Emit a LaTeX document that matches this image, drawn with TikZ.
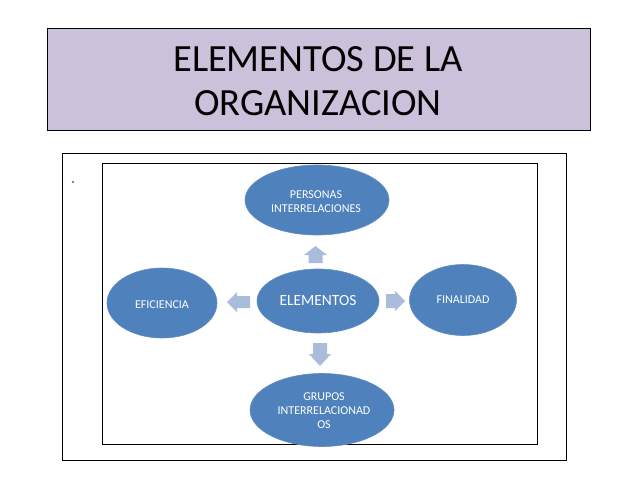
\documentclass[tikz,border=0pt]{standalone}
\usepackage{fontspec}
\setmainfont{Carlito}
\usetikzlibrary{shapes.geometric}
\definecolor{titlefill}{HTML}{CCC1DA}
\definecolor{ellfill}{HTML}{4F81BD}
\definecolor{arrfill}{HTML}{A9BCDC}
\tikzset{
  ell/.style={ellipse, fill=ellfill, draw=ellfill!90!white, line width=0.6pt, text=white, inner sep=0pt, align=center, font=\fontsize{12}{14}\selectfont},
  elltext/.style={align=center, text=white, font=\fontsize{12}{14}\selectfont, inner sep=0pt},
  blockarrow/.style={fill=arrfill, draw=none},
  frame/.style={draw=black, line width=0.8pt}
}
\begin{document}
\begin{tikzpicture}[x=1pt,y=-1pt]
\path[fill=white] (0,0) rectangle (638,479);
\useasboundingbox (0,0) rectangle (638,479);
% title
\node[frame, fill=titlefill, minimum width=543pt, minimum height=102pt, anchor=north west, inner sep=0pt] (title) at (47,28) {};
\node[align=center, font=\fontsize{38.5}{43.5}\selectfont] (titletext) at (318,81) {ELEMENTOS DE LA\\ORGANIZACION};
% content frames
\node[frame, minimum width=504pt, minimum height=307pt, anchor=north west, inner sep=0pt] (outer) at (62,153) {};
\node[frame, minimum width=435pt, minimum height=281pt, anchor=north west, inner sep=0pt] (inner) at (102,163) {};
\fill[gray] (73,182) circle (1.3pt);
% ellipses
\node[ell, minimum width=144pt, minimum height=70pt] (personas) at (317,200) {};
\node[elltext] (personastext) at (316,202) {PERSONAS\\INTERRELACIONES};
\node[ell, minimum width=122pt, minimum height=64pt, font=\fontsize{15.5}{18}\selectfont] (elementos) at (318,301) {ELEMENTOS};
\node[ell, minimum width=110pt, minimum height=70pt] (eficiencia) at (162,303) {};
\node[elltext] (eficienciatext) at (162,305) {EFICIENCIA};
\node[ell, minimum width=107pt, minimum height=71pt] (finalidad) at (463,300) {FINALIDAD};
\node[ell, minimum width=144pt, minimum height=73pt] (grupos) at (322,410) {};
\node[elltext] (grupostext) at (324,411) {GRUPOS\\INTERRELACIONAD\\OS};
% block arrows
\path[blockarrow] (315.5,246) -- (327,255) -- (322.5,255) -- (322.5,263) -- (308.5,263) -- (308.5,255) -- (304,255) -- cycle;
\path[blockarrow] (227,302) -- (237,292) -- (237,296) -- (250,296) -- (250,308) -- (237,308) -- (237,312) -- cycle;
\path[blockarrow] (405,301) -- (395,291) -- (395,294) -- (386,294) -- (386,308) -- (395,308) -- (395,311) -- cycle;
\path[blockarrow] (320,366) -- (331,354) -- (327,354) -- (327,343) -- (313,343) -- (313,354) -- (309,354) -- cycle;
\end{tikzpicture}
\end{document}
